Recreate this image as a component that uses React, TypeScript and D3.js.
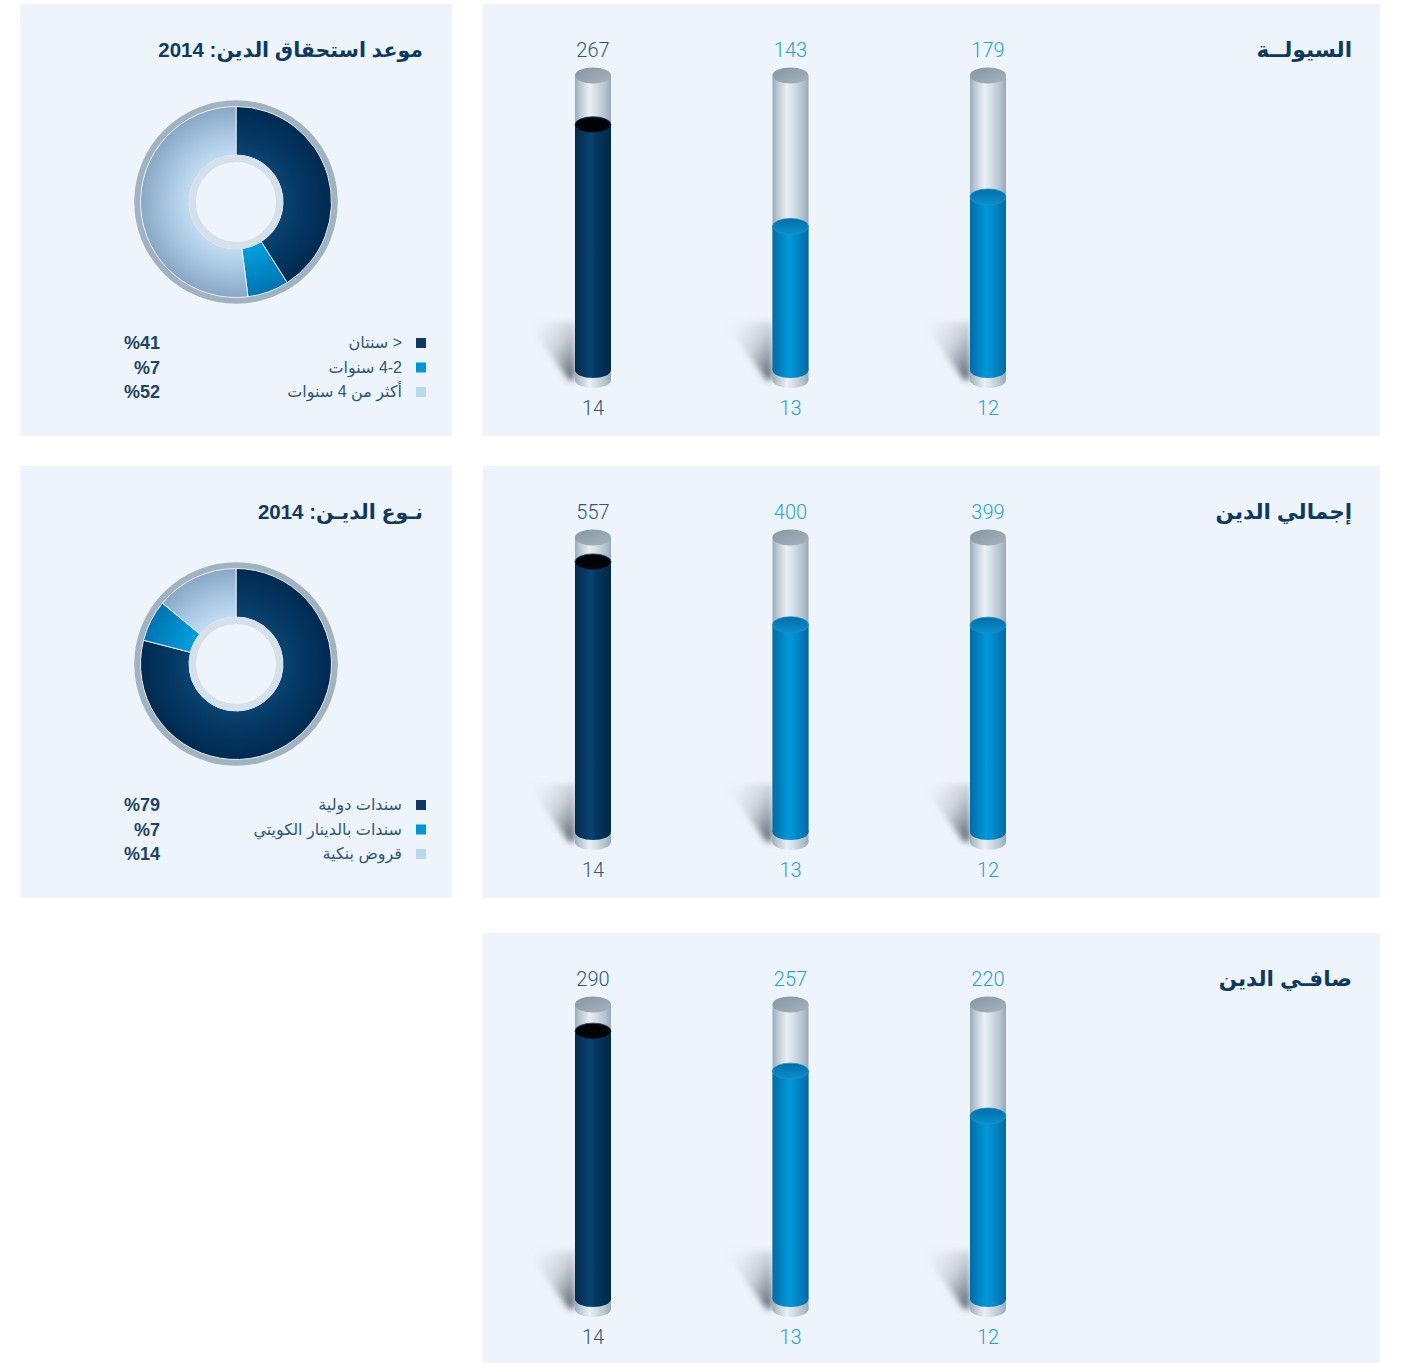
import React from "react";
import * as d3 from "d3";

// ---------- data ----------
const years = ["14", "13", "12"];
const liquidity = [267, 143, 179];
const totalDebt = [557, 400, 399];
const netDebt = [290, 257, 220];
const barTitles = ["السيولــة", "إجمالي الدين", "صافـي الدين"];
const barDomains: [number, number][] = [
  [-32, 327],
  [-118, 618],
  [69, 312],
];

const maturityTitle = "موعد استحقاق الدين: 2014";
const maturityLabels = ["< سنتان", "4-2 سنوات", "أكثر من 4 سنوات"];
const maturityValues = [41, 7, 52];

const typeTitle = "نـوع الديـن: 2014";
const typeLabels = ["سندات دولية", "سندات بالدينار الكويتي", "قروض بنكية"];
const typeValues = [79, 7, 14];

// ---------- layout / style ----------
const W = 1420;
const H = 1363;
const PANEL_BG = "#eef4fc";
const TITLE_COLOR = "#0e3a62";
const AR_FONT = "'Liberation Sans', 'DejaVu Sans', sans-serif";
const NUM_FONT = "Roboto, 'Liberation Sans', sans-serif";

const leftX = 20;
const leftW = 432;
const rightX = 483;
const rightW = 897;
const panelTops = [4, 466, 933];
const panelHeights = [432, 432, 430];

const CAP_Y = 71.5;
const FILL_BOTTOM = 366;
const GLASS_BOTTOM = 376;
const RX = 18;
const RY = 8;

const sliceFills = ["url(#dDark)", "url(#dBlue)", "url(#dLight)"];
const legendColors = ["#0b3a66", "#0096d6", "#b9d7ef"];

function Cylinders({ values, domain, top, title }: { values: number[]; domain: [number, number]; top: number; title: string }) {
  const x = d3.scalePoint<string>().domain(years).range([593, 988]);
  const y = d3.scaleLinear().domain(domain).range([FILL_BOTTOM, CAP_Y]);
  return (
    <g transform={`translate(0,${top})`}>
      <text
        x={1352}
        y={53}
        direction="rtl"
        textAnchor="start"
        fontFamily={AR_FONT}
        fontWeight="bold"
        fontSize={21.5}
        fill={TITLE_COLOR}
      >
        {title}
      </text>
      {years.map((yr, i) => {
        const cx = x(yr) as number;
        const v = values[i];
        const fy = y(v);
        const dark = i === 0;
        const labelColor = dark ? "#2e5677" : "#23a2dc";
        return (
          <g key={yr}>
            {/* shadow */}
            <polygon
              points={`${cx - 66},${FILL_BOTTOM - 48} ${cx - 18},${FILL_BOTTOM - 48} ${cx - 18},${FILL_BOTTOM + 10} ${cx - 24},${FILL_BOTTOM + 10}`}
              fill="url(#shadowGrad)"
              filter="url(#blur)"
            />
            {/* glass body */}
            <rect x={cx - RX} y={CAP_Y} width={RX * 2} height={GLASS_BOTTOM - CAP_Y} fill="url(#glassGrad)" />
            <ellipse cx={cx} cy={GLASS_BOTTOM} rx={RX} ry={RY} fill="url(#glassGrad)" />
            {/* fill */}
            <rect x={cx - RX} y={fy} width={RX * 2} height={FILL_BOTTOM - fy} fill={dark ? "url(#darkGrad)" : "url(#blueGrad)"} />
            <ellipse cx={cx} cy={FILL_BOTTOM} rx={RX} ry={RY} fill={dark ? "url(#darkGrad)" : "url(#blueGrad)"} />
            <ellipse
              cx={cx}
              cy={fy}
              rx={RX}
              ry={RY}
              fill={dark ? "#010306" : "url(#blueTop)"}
              stroke={dark ? "#0b3a64" : "#1a8fc8"}
              strokeWidth={0.8}
            />
            {/* glass top cap */}
            <ellipse cx={cx} cy={CAP_Y} rx={RX} ry={RY} fill="url(#capGrad)" />
            {/* labels */}
            <text x={cx} y={53} textAnchor="middle" fontFamily={NUM_FONT} fontWeight={300} fontSize={20} fill={labelColor}>
              {v}
            </text>
            <text x={cx} y={411} textAnchor="middle" fontFamily={NUM_FONT} fontWeight={300} fontSize={20} fill={labelColor}>
              {yr}
            </text>
          </g>
        );
      })}
    </g>
  );
}

function Donut({ values, labels, top, title }: { values: number[]; labels: string[]; top: number; title: string }) {
  const pie = d3
    .pie<number>()
    .sort(null)
    .startAngle(0)
    .endAngle(Math.PI * 2)
    .value((d) => d);
  const arcs = pie(values);
  const arc = d3.arc<d3.PieArcDatum<number>>().innerRadius(47).outerRadius(95.5);
  const legendY = d3.scalePoint<number>().domain(d3.range(values.length)).range([339, 388]);
  return (
    <g transform={`translate(0,${top})`}>
      <text
        x={423}
        y={53}
        direction="rtl"
        textAnchor="start"
        fontFamily={AR_FONT}
        fontWeight="bold"
        fontSize={20.5}
        fill={TITLE_COLOR}
      >
        {title}
      </text>
      <g transform={`translate(236,198)`}>
        <circle r={98.5} fill="none" stroke="#a2b2be" strokeWidth={6.5} />
        {arcs.map((a, i) => (
          <path key={i} d={arc(a) as string} fill={sliceFills[i]} stroke="#e6eef6" strokeWidth={1} />
        ))}
        <circle r={43.5} fill={PANEL_BG} stroke="#d5e0ea" strokeWidth={7} />
      </g>
      {labels.map((lab, i) => {
        const cy = legendY(i) as number;
        return (
          <g key={i}>
            <rect x={416} y={cy - 5} width={10} height={10} fill={legendColors[i]} />
            <text
              x={402}
              y={cy + 5}
              direction="rtl"
              textAnchor="start"
              fontFamily={AR_FONT}
              fontSize={16}
              fill="#2e5677"
            >
              {lab}
            </text>
            <text x={160} y={cy + 6} textAnchor="end" fontFamily="'Liberation Sans', sans-serif" fontWeight="bold" fontSize={18} fill="#1c4468">
              {`%${values[i]}`}
            </text>
          </g>
        );
      })}
    </g>
  );
}

export default function App() {
  const barSets = [liquidity, totalDebt, netDebt];
  return (
    <svg width={W} height={H} style={{ position: "absolute", left: 0, top: 0, background: "#ffffff" }}>
      <defs>
        <linearGradient id="glassGrad" x1="0" x2="1" y1="0" y2="0">
          <stop offset="0" stopColor="#98aab8" />
          <stop offset="0.12" stopColor="#b6c5d0" />
          <stop offset="0.4" stopColor="#eaf0f4" />
          <stop offset="0.55" stopColor="#d8e2e9" />
          <stop offset="0.85" stopColor="#b2c1cc" />
          <stop offset="1" stopColor="#97a8b5" />
        </linearGradient>
        <linearGradient id="capGrad" x1="0" x2="1" y1="0" y2="1">
          <stop offset="0" stopColor="#8696a2" />
          <stop offset="1" stopColor="#a4b3be" />
        </linearGradient>
        <linearGradient id="darkGrad" x1="0" x2="1" y1="0" y2="0">
          <stop offset="0" stopColor="#002a4c" />
          <stop offset="0.45" stopColor="#0a4573" />
          <stop offset="0.6" stopColor="#03365f" />
          <stop offset="1" stopColor="#00284a" />
        </linearGradient>
        <linearGradient id="blueGrad" x1="0" x2="1" y1="0" y2="0">
          <stop offset="0" stopColor="#006ca6" />
          <stop offset="0.45" stopColor="#0099d9" />
          <stop offset="0.6" stopColor="#008fcf" />
          <stop offset="1" stopColor="#006aa3" />
        </linearGradient>
        <linearGradient id="blueTop" x1="0" x2="0" y1="0" y2="1">
          <stop offset="0" stopColor="#006ea9" />
          <stop offset="1" stopColor="#0a8fcc" />
        </linearGradient>
        <linearGradient id="shadowGrad" x1="0.05" x2="0.95" y1="0.1" y2="0.85">
          <stop offset="0" stopColor="#b0bac4" stopOpacity="0" />
          <stop offset="0.55" stopColor="#7d8893" stopOpacity="0.3" />
          <stop offset="1" stopColor="#45505b" stopOpacity="0.8" />
        </linearGradient>
        <filter id="blur" x="-30%" y="-30%" width="160%" height="160%">
          <feGaussianBlur stdDeviation="3" />
        </filter>
        <radialGradient id="dDark" gradientUnits="userSpaceOnUse" cx="0" cy="0" r="96">
          <stop offset="0.45" stopColor="#0c4673" />
          <stop offset="0.7" stopColor="#043762" />
          <stop offset="1" stopColor="#002a50" />
        </radialGradient>
        <radialGradient id="dBlue" gradientUnits="userSpaceOnUse" cx="0" cy="0" r="96">
          <stop offset="0.45" stopColor="#00a2e2" />
          <stop offset="1" stopColor="#0074b0" />
        </radialGradient>
        <radialGradient id="dLight" gradientUnits="userSpaceOnUse" cx="0" cy="0" r="96">
          <stop offset="0.45" stopColor="#c6e0f5" />
          <stop offset="0.7" stopColor="#a9c8e3" />
          <stop offset="1" stopColor="#87a7c5" />
        </radialGradient>
      </defs>

      {panelTops.map((t, i) => (
        <rect key={`r${i}`} x={rightX} y={t} width={rightW} height={panelHeights[i]} fill={PANEL_BG} />
      ))}
      {panelTops.slice(0, 2).map((t, i) => (
        <rect key={`l${i}`} x={leftX} y={t} width={leftW} height={panelHeights[i]} fill={PANEL_BG} />
      ))}

      {barSets.map((vals, i) => (
        <Cylinders key={i} values={vals} domain={barDomains[i]} top={panelTops[i]} title={barTitles[i]} />
      ))}

      <Donut values={maturityValues} labels={maturityLabels} top={panelTops[0]} title={maturityTitle} />
      <Donut values={typeValues} labels={typeLabels} top={panelTops[1]} title={typeTitle} />
    </svg>
  );
}
